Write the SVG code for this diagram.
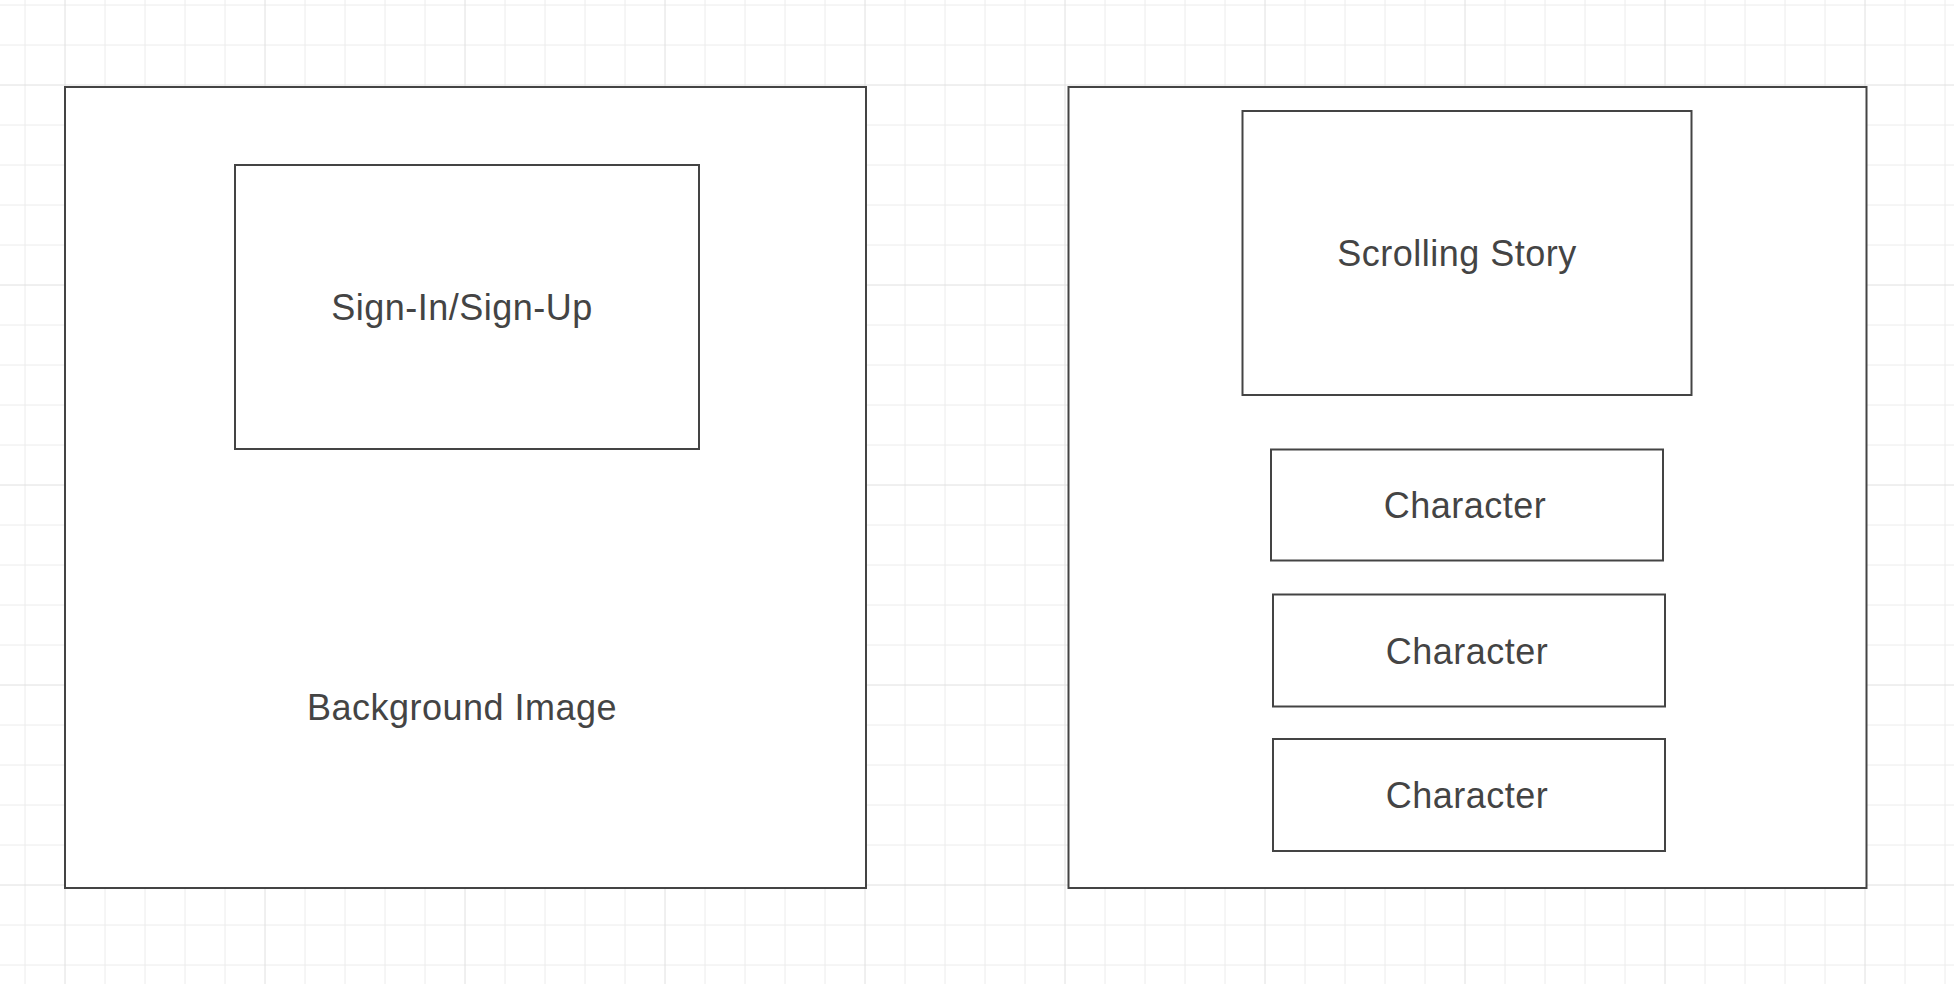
<svg xmlns="http://www.w3.org/2000/svg" width="1954" height="984" viewBox="0 0 1954 984">
<style>
.minor{stroke:#ececec;stroke-width:1;fill:none}
.major{stroke:#e0e0e0;stroke-width:1;fill:none}
.box{fill:#ffffff;stroke:#444444;stroke-width:2}
.lbl{font-family:"Liberation Sans",Arial,sans-serif;font-size:36px;letter-spacing:0.5px;fill:#444444;text-anchor:middle}
</style>
<rect x="0" y="0" width="1954" height="984" fill="#ffffff"/>
<g id="grid">
<path class="minor" d="M25 0V984M105 0V984M145 0V984M185 0V984M225 0V984M305 0V984M345 0V984M385 0V984M425 0V984M505 0V984M545 0V984M585 0V984M625 0V984M705 0V984M745 0V984M785 0V984M825 0V984M905 0V984M945 0V984M985 0V984M1025 0V984M1105 0V984M1145 0V984M1185 0V984M1225 0V984M1305 0V984M1345 0V984M1385 0V984M1425 0V984M1505 0V984M1545 0V984M1585 0V984M1625 0V984M1705 0V984M1745 0V984M1785 0V984M1825 0V984M1905 0V984M1945 0V984M0 5H1954M0 45H1954M0 125H1954M0 165H1954M0 205H1954M0 245H1954M0 325H1954M0 365H1954M0 405H1954M0 445H1954M0 525H1954M0 565H1954M0 605H1954M0 645H1954M0 725H1954M0 765H1954M0 805H1954M0 845H1954M0 925H1954M0 965H1954"/>
<path class="major" d="M65 0V984M265 0V984M465 0V984M665 0V984M865 0V984M1065 0V984M1265 0V984M1465 0V984M1665 0V984M1865 0V984M0 85H1954M0 285H1954M0 485H1954M0 685H1954M0 885H1954"/>
</g>
<g id="login-screen">
<rect class="box" x="65" y="87" width="801" height="801"/>
<text class="lbl" x="462" y="720">Background Image</text>
</g>
<g id="sign-in">
<rect class="box" x="235" y="165" width="464" height="284"/>
<text class="lbl" x="462" y="319.5">Sign-In/Sign-Up</text>
</g>
<g id="story-screen">
<rect class="box" x="1068.5" y="87" width="798" height="801"/>
</g>
<g id="scrolling-story">
<rect class="box" x="1242.5" y="111" width="449" height="284"/>
<text class="lbl" x="1457" y="265.5">Scrolling Story</text>
</g>
<g id="character-1">
<rect class="box" x="1271" y="449.5" width="392" height="111"/>
<text class="lbl" x="1465" y="518">Character</text>
</g>
<g id="character-2">
<rect class="box" x="1273" y="594.5" width="392" height="112"/>
<text class="lbl" x="1467" y="664">Character</text>
</g>
<g id="character-3">
<rect class="box" x="1273" y="739" width="392" height="112"/>
<text class="lbl" x="1467" y="808">Character</text>
</g>
<g id="connectors"></g>
</svg>
